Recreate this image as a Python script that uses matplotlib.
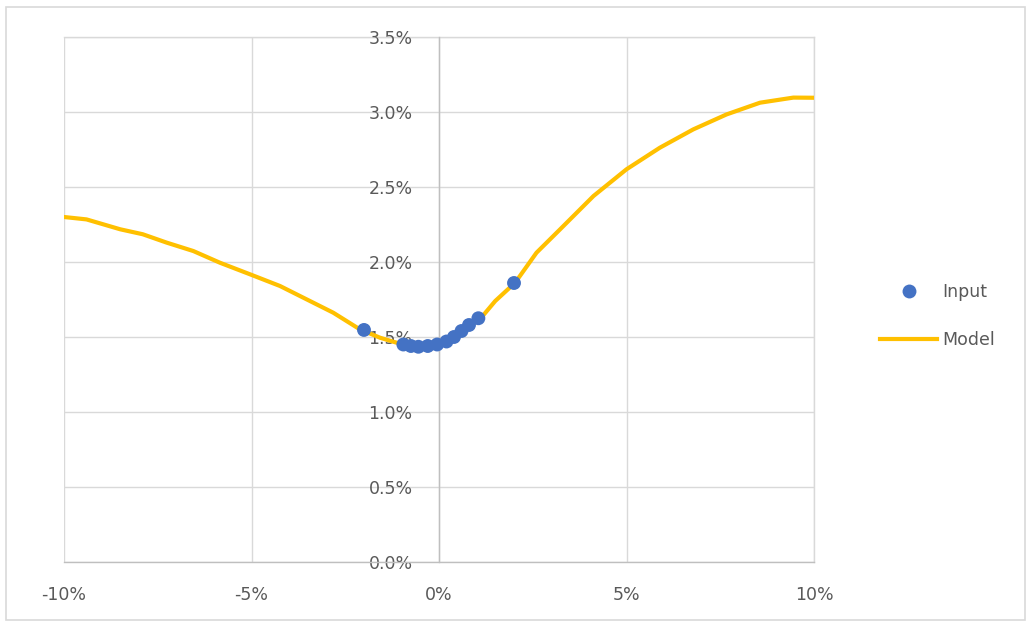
import matplotlib
matplotlib.use("Agg")
import matplotlib.pyplot as plt
from matplotlib.lines import Line2D
from matplotlib.patches import Rectangle
from matplotlib.ticker import FuncFormatter

# Data (in percent)
model_x = [-10, -9.4, -8.5, -7.9, -7.26, -6.55, -5.84, -5.04, -4.24, -3.53, -2.82, -2.11,
           -1.57, -1.13, -0.8, -0.5, -0.2, 0.0, 0.3, 0.6, 0.85, 1.09, 1.5, 2.03, 2.6, 3.23,
           4.12, 5.0, 5.89, 6.78, 7.67, 8.56, 9.45, 10]
model_y = [2.30, 2.284, 2.218, 2.185, 2.129, 2.073, 1.995, 1.918, 1.84, 1.751, 1.662, 1.551,
           1.495, 1.462, 1.445, 1.435, 1.44, 1.45, 1.475, 1.53, 1.58, 1.618, 1.74, 1.862,
           2.062, 2.218, 2.44, 2.618, 2.762, 2.884, 2.984, 3.062, 3.096, 3.095]
input_x = [-2.0, -0.95, -0.75, -0.55, -0.3, -0.05, 0.2, 0.4, 0.6, 0.8, 1.05, 2.0]
input_y = [1.547, 1.45, 1.44, 1.435, 1.44, 1.45, 1.47, 1.50, 1.54, 1.58, 1.625, 1.86]
x_ticks = [-10, -5, 0, 5, 10]
y_ticks = [0.0, 0.5, 1.0, 1.5, 2.0, 2.5, 3.0, 3.5]

plt.rcParams['font.family'] = ['DejaVu Sans']

fig = plt.figure(figsize=(10.32, 6.26), dpi=100)
ax = fig.add_axes([64/1032, 1-562/626, (814-64)/1032, (562-37)/626])

grid_c = '#D9D9D9'
axis_c = '#BFBFBF'
text_c = '#595959'

ax.plot(model_x, model_y, color='#FFC000', lw=3.0, solid_capstyle='round',
        solid_joinstyle='round', zorder=3, label='Model')
ax.scatter(input_x, input_y, s=100, color='#4472C4', zorder=4, label='Input',
           edgecolors='none')

ax.set_xlim(-10, 10)
ax.set_ylim(0, 3.5)
ax.set_xticks(x_ticks)
ax.set_yticks(y_ticks)
ax.xaxis.set_major_formatter(FuncFormatter(lambda v, p: f"{v:.0f}%"))
ax.yaxis.set_major_formatter(FuncFormatter(lambda v, p: f"{v:.1f}%"))

ax.grid(True, color=grid_c, lw=1.0, zorder=0)
ax.set_axisbelow(True)
ax.axvline(x_ticks[-1], color=grid_c, lw=1.0, zorder=0, clip_on=False)
ax.axhline(y_ticks[-1], color=grid_c, lw=1.0, zorder=0, clip_on=False)

for s in ['top', 'right']:
    ax.spines[s].set_visible(False)
ax.spines['left'].set_position(('data', 0))
ax.spines['left'].set_color(axis_c)
ax.spines['bottom'].set_color(axis_c)
ax.spines['left'].set_linewidth(1.0)
ax.spines['bottom'].set_linewidth(1.0)

ax.tick_params(axis='both', length=0, colors=text_c, labelsize=12.5)
ax.tick_params(axis='y', pad=19)
ax.tick_params(axis='x', pad=17)

handles = [Line2D([], [], marker='o', ls='none', color='#4472C4', markersize=10,
                  markeredgewidth=0),
           Line2D([], [], color='#FFC000', lw=3.0)]
leg = fig.legend(handles, ['Input', 'Model'], loc='center left',
                 bbox_to_anchor=(880/1032, 1-316/626), frameon=False,
                 fontsize=12.5, labelspacing=1.75, handlelength=3.3,
                 handletextpad=0.3, borderpad=0, borderaxespad=0)
for t in leg.get_texts():
    t.set_color(text_c)

fig.patches.append(Rectangle((6/1032, 6/626), 1019/1032, 613/626, transform=fig.transFigure,
                             fill=False, edgecolor='#D9D9D9', lw=1.2))

fig.savefig('out.png', dpi=100, facecolor='white')
